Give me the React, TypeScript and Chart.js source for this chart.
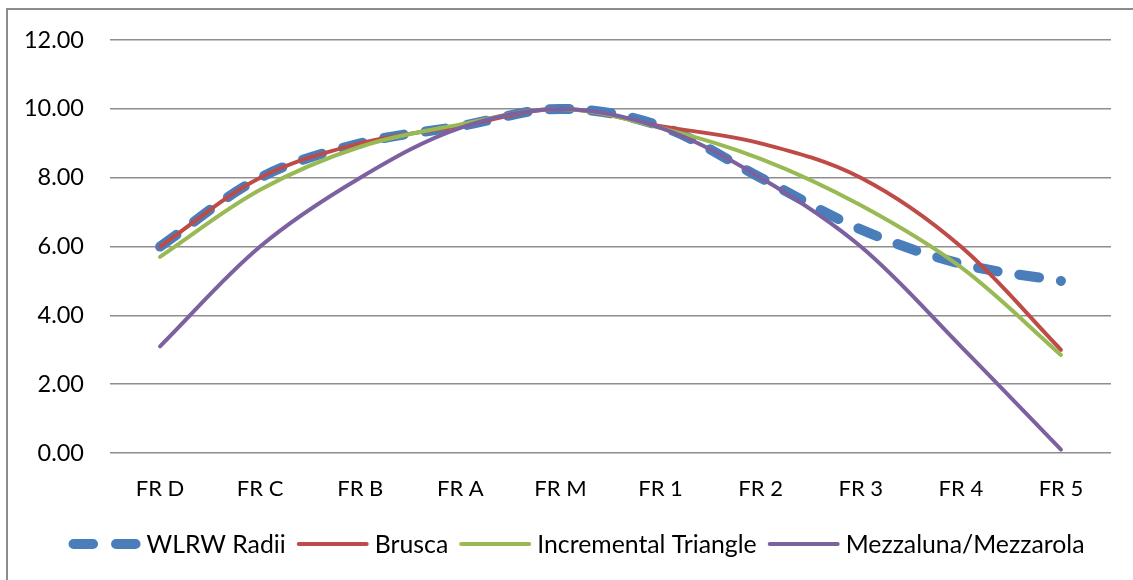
import React, { useEffect, useRef } from "react";
import { Chart, registerables } from "chart.js";

Chart.register(...registerables);

const categories = ["FR D", "FR C", "FR B", "FR A", "FR M", "FR 1", "FR 2", "FR 3", "FR 4", "FR 5"];
const wlrwRadii = [6.0, 8.0, 9.0, 9.5, 10.0, 9.5, 8.0, 6.5, 5.5, 5.0];
const brusca = [6.0, 8.0, 9.0, 9.5, 10.0, 9.5, 9.0, 8.0, 6.0, 3.0];
const incrementalTriangle = [5.7, 7.65, 8.9, 9.55, 10.0, 9.45, 8.55, 7.2, 5.4, 2.85];
const mezzaluna = [3.1, 6.0, 8.0, 9.45, 10.0, 9.45, 8.0, 6.0, 3.1, 0.1];
const seriesNames = ["WLRW Radii", "Brusca", "Incremental Triangle", "Mezzaluna/Mezzarola"];
const seriesColors = ["#4A7EBB", "#BE4B48", "#98B954", "#7D60A0"];

const FONT = "Lato, 'Open Sans', sans-serif";

const customLegend = {
  id: "customLegend",
  afterDraw(chart: any) {
    const ctx = chart.ctx as CanvasRenderingContext2D;
    ctx.save();
    ctx.font = `24.8px ${FONT}`;
    ctx.textBaseline = "middle";
    ctx.textAlign = "left";
    const symW = 72;
    const textGap = 6;
    const itemGap = 11;
    const ds = chart.data.datasets;
    const widths = ds.map((d: any) => ctx.measureText(d.label).width);
    const total = widths.reduce((a: number, b: number) => a + b, 0) + ds.length * (symW + textGap) + (ds.length - 1) * itemGap;
    let x = 576.5 - total / 2;
    const y = 544;
    ds.forEach((d: any, i: number) => {
      ctx.strokeStyle = d.borderColor;
      ctx.lineCap = "round";
      ctx.lineWidth = d.borderWidth;
      const half = d.borderWidth / 2;
      ctx.beginPath();
      if (d.borderDash && d.borderDash.length) {
        const seg = (symW - 13) / 2;
        ctx.moveTo(x + half, y);
        ctx.lineTo(x + seg - half, y);
        ctx.moveTo(x + seg + 13 + half, y);
        ctx.lineTo(x + symW - half, y);
      } else {
        ctx.moveTo(x + half, y);
        ctx.lineTo(x + symW - half, y);
      }
      ctx.stroke();
      x += symW + textGap;
      ctx.fillStyle = "#000";
      ctx.fillText(d.label, x, y + 1);
      x += widths[i] + itemGap;
    });
    ctx.restore();
  },
};

export default function App() {
  const ref = useRef<HTMLCanvasElement | null>(null);

  useEffect(() => {
    if (!ref.current) return;
    const tension = 0.35;
    const mk = (i: number, data: number[], width: number, order: number, dash?: number[]) => ({
      label: seriesNames[i],
      data,
      borderColor: seriesColors[i],
      backgroundColor: seriesColors[i],
      borderWidth: width,
      borderDash: dash || [],
      borderCapStyle: "round",
      tension,
      pointRadius: 0,
      order,
    });
    const chart = new Chart(ref.current, {
      type: "line",
      data: {
        labels: categories,
        datasets: [
          mk(0, wlrwRadii, 10, 4, [20, 22]),
          mk(1, brusca, 4, 3),
          mk(2, incrementalTriangle, 4, 2),
          mk(3, mezzaluna, 4, 1),
        ],
      },
      options: {
        responsive: false,
        animation: false,
        layout: { autoPadding: false, padding: { top: 38, right: 22, bottom: 57, left: 0 } },
        scales: {
          x: {
            offset: true,
            grid: { display: false, drawTicks: false },
            border: { display: false },
            ticks: { color: "#000", font: { family: FONT, size: 22 }, padding: 23, maxRotation: 0 },
            afterFit: (s: any) => {
              s.height = 70;
            },
          },
          y: {
            min: 0,
            max: 12,
            grid: { color: "#8E8E8E", lineWidth: 1.5, drawTicks: false },
            border: { display: false },
            ticks: {
              stepSize: 2,
              color: "#000",
              padding: 26,
              font: { family: FONT, size: 23.5 },
              callback: (v: any) => Number(v).toFixed(2),
            },
            afterFit: (s: any) => {
              s.width = 110;
            },
          },
        },
        plugins: {
          tooltip: { enabled: false },
          legend: { display: false },
        },
      },
      plugins: [customLegend],
    } as any);
    return () => chart.destroy();
  }, []);

  return (
    <div>
      <div
        style={{
          position: "fixed",
          left: 6,
          top: 8,
          width: 1200,
          height: 700,
          border: "2px solid #8C8C8C",
          boxSizing: "border-box",
        }}
      />
      <canvas
        ref={ref}
        width={1133}
        height={580}
        style={{ position: "fixed", left: 0, top: 0, width: 1133, height: 580, display: "block" }}
      />
    </div>
  );
}
